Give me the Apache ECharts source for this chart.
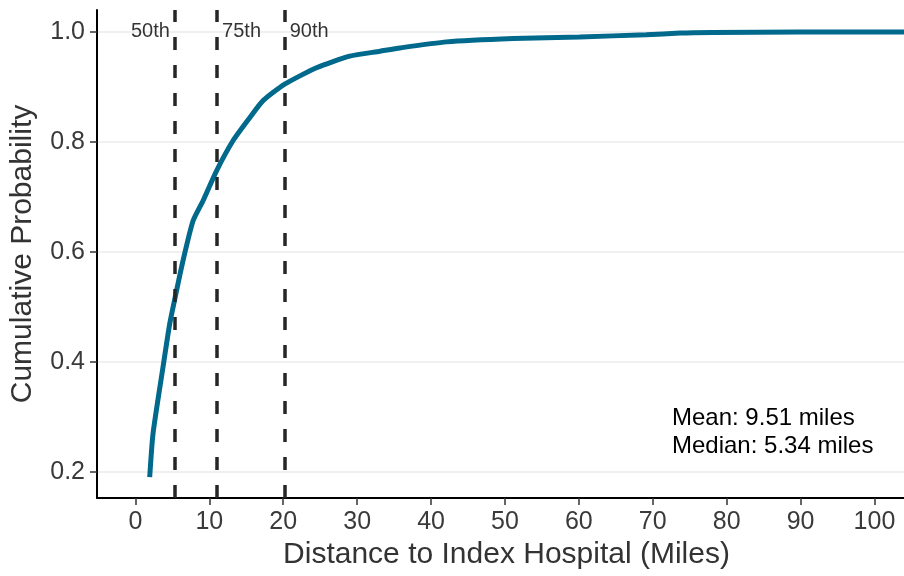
<!DOCTYPE html>
<html>
<head>
<meta charset="utf-8">
<script src="https://cdn.jsdelivr.net/npm/echarts@6/dist/echarts.min.js"></script>
<style>
  html, body { margin: 0; padding: 0; background: #fff; }
  #chart { width: 904px; height: 576px; }
</style>
</head>
<body>
<div id="chart"></div>
<script>
// distance (miles) and cumulative probability
var distance = [1.93, 2.38, 3.73, 4.64, 5.34, 6.44, 7.79, 9.15, 10.96, 13.2, 15.47, 17.27, 20.2, 24.5, 29.0, 33.1, 35.8, 42.1, 51.1, 60.1, 69.1, 73.7, 78.1, 90, 110];
var cumProb = [0.19, 0.269, 0.39, 0.469, 0.515, 0.584, 0.656, 0.693, 0.747, 0.802, 0.844, 0.875, 0.905, 0.935, 0.956, 0.965, 0.971, 0.982, 0.988, 0.991, 0.995, 0.998, 0.999, 1.0, 1.0];

// percentile cut-offs
var pctNames = ['50th', '75th', '90th'];
var pctValues = [5.34, 11.05, 20.2];

var xTicks = [0, 10, 20, 30, 40, 50, 60, 70, 80, 90, 100];
var yTicks = [0.2, 0.4, 0.6, 0.8, 1.0];

var statLines = ['Mean: 9.51 miles', 'Median: 5.34 miles'];

var font = '"Liberation Sans", Arial, sans-serif';

var curve = [];
for (let i = 0; i < distance.length; i++) {
    curve.push([distance[i], cumProb[i]]);
}

// percentile labels: first one sits left of its line, the rest on the right
var pctLabels = pctValues.map(function(v, i) {
    return {
        value: [v, 1.0],
        label: { position: i === 0 ? 'left' : 'right', formatter: pctNames[i] }
    };
});

var option = {
    animation: false,
    grid: { left: 97, right: 0, top: 10, bottom: 78, outerBoundsMode: 'none', containLabel: false },
    xAxis: {
        type: 'value',
        min: -5.2,
        max: 104,
        name: 'Distance to Index Hospital (Miles)',
        nameLocation: 'middle',
        nameGap: 40,
        nameTextStyle: { fontFamily: font, fontSize: 30, color: '#333', padding: [0, 0, 0, 12] },
        axisLine: { show: true, onZero: false, lineStyle: { color: '#000', width: 2 } },
        axisTick: { show: true, length: 7, customValues: xTicks, lineStyle: { color: '#333', width: 1.5 } },
        axisLabel: { customValues: xTicks, fontFamily: font, fontSize: 25, color: '#3a3a3a', margin: 12 },
        splitLine: { show: false }
    },
    yAxis: {
        type: 'value',
        min: 0.152,
        max: 1.04,
        name: 'Cumulative Probability',
        nameLocation: 'middle',
        nameGap: 59,
        nameTextStyle: { fontFamily: font, fontSize: 30, color: '#333' },
        axisLine: { show: true, onZero: false, lineStyle: { color: '#000', width: 2 } },
        axisTick: { show: true, length: 7, customValues: yTicks, lineStyle: { color: '#333', width: 1.5 } },
        axisLabel: {
            customValues: yTicks, fontFamily: font, fontSize: 25, color: '#3a3a3a', margin: 12,
            formatter: function(v) { return v.toFixed(1); }
        },
        splitLine: { show: true, lineStyle: { color: '#ebebeb', width: 1.5 } }
    },
    series: [
        {
            type: 'line',
            data: curve,
            showSymbol: false,
            smooth: 0.2,
            clip: true,
            lineStyle: { color: '#00698c', width: 5 },
            markLine: {
                silent: true,
                symbol: 'none',
                label: { show: false },
                lineStyle: { color: '#262626', width: 3.5, type: [13, 15] },
                data: pctValues.map(function(v) { return { xAxis: v }; })
            }
        },
        {
            type: 'scatter',
            data: pctLabels,
            symbolSize: 0,
            label: { show: true, fontFamily: font, fontSize: 20, color: '#000', distance: 5 }
        }
    ],
    graphic: [
        {
            type: 'text',
            left: 672,
            top: 404,
            style: { text: statLines.join('\n'), font: '24px ' + font, fill: '#000', lineHeight: 28 }
        }
    ]
};

var myChart = echarts.init(document.getElementById('chart'));
myChart.setOption(option);
</script>
</body>
</html>
